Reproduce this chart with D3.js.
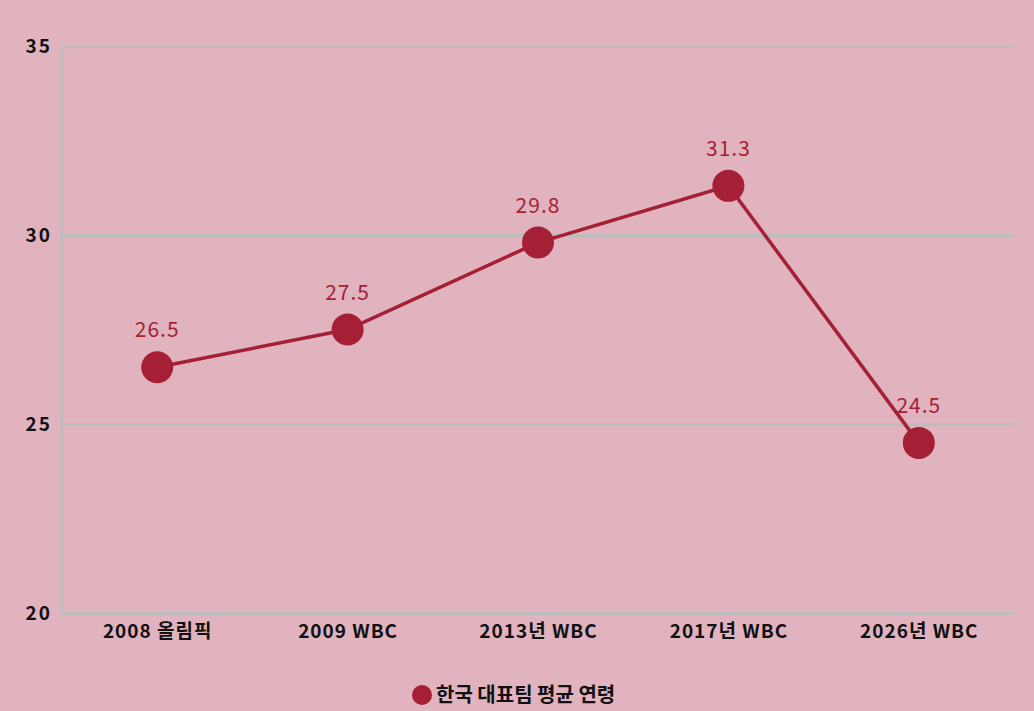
<!DOCTYPE html>
<html>
<head>
<meta charset="utf-8">
<script src="https://cdn.jsdelivr.net/npm/d3@7"></script>
<style>
  body { margin: 0; background: #e0b3bf; }
  text { font-family: "Noto Sans CJK KR", "Noto Sans", sans-serif; }
</style>
</head>
<body>
<div class="chart"></div>
<script>
const categories = ["2008 올림픽", "2009 WBC", "2013년 WBC", "2017년 WBC", "2026년 WBC"];
const ages = [26.5, 27.5, 29.8, 31.3, 24.5];
const yTicks = [20, 25, 30, 35];
const seriesName = "한국 대표팀 평균 연령";

const W = 1034, H = 711;
const margin = {top: 46, right: 20, bottom: 98, left: 62};
const width = W - margin.left - margin.right,
  height = H - margin.top - margin.bottom;
const red = "#a51f35";

const svg = d3.select(".chart").append("svg")
  .attr("width", W)
  .attr("height", H)
  .style("background", "#e0b3bf");

const g = svg.append("g")
  .attr("transform", `translate(${margin.left},${margin.top})`);

const data = categories.map((c, i) => ({cat: c, age: ages[i]}));

let xScale = d3.scalePoint().domain(categories).range([0, width]).padding(0.5);
let yScale = d3.scaleLinear().domain([20, 35]).range([height, 0]);

// grid
g.append("g")
  .call(d3.axisLeft(yScale).tickValues(yTicks).tickSize(-width).tickPadding(10))
  .call(a => a.select(".domain").remove())
  .call(a => a.selectAll(".tick line").attr("stroke", "#bdbdbd").attr("stroke-width", 3))
  .call(a => a.selectAll(".tick text")
    .attr("font-size", 19).attr("font-weight", 700).attr("fill", "#111")
    .attr("letter-spacing", 2));

g.append("line")
  .attr("x1", 0).attr("x2", 0)
  .attr("y1", 0).attr("y2", height)
  .attr("stroke", "#bdbdbd").attr("stroke-width", 3);

g.append("g")
  .attr("transform", `translate(0,${height})`)
  .call(d3.axisBottom(xScale).tickSize(0).tickPadding(12))
  .call(a => a.select(".domain").remove())
  .call(a => a.selectAll(".tick text")
    .attr("font-size", 19).attr("font-weight", 700).attr("fill", "#111")
    .attr("letter-spacing", 1));

const line = d3.line().x(d => xScale(d.cat)).y(d => yScale(d.age));

g.append("path")
  .datum(data)
  .attr("d", line)
  .attr("fill", "none")
  .attr("stroke", red)
  .attr("stroke-width", 3.5);

g.selectAll("circle.pt")
  .data(data)
  .enter().append("circle")
  .attr("class", "pt")
  .attr("cx", d => xScale(d.cat))
  .attr("cy", d => yScale(d.age))
  .attr("r", 16)
  .attr("fill", red);

g.selectAll("text.val")
  .data(data)
  .enter().append("text")
  .attr("class", "val")
  .attr("x", d => xScale(d.cat))
  .attr("y", d => yScale(d.age) - 30)
  .attr("text-anchor", "middle")
  .attr("font-size", 21)
  .attr("letter-spacing", 1)
  .attr("fill", red)
  .text(d => d.age.toFixed(1));

// legend
const leg = svg.append("g").attr("transform", "translate(422,695)");
leg.append("circle").attr("r", 10).attr("fill", red);
leg.append("text")
  .attr("x", 14).attr("dy", "0.35em")
  .attr("font-size", 20).attr("font-weight", 700).attr("fill", "#111")
  .text(seriesName);
</script>
</body>
</html>
